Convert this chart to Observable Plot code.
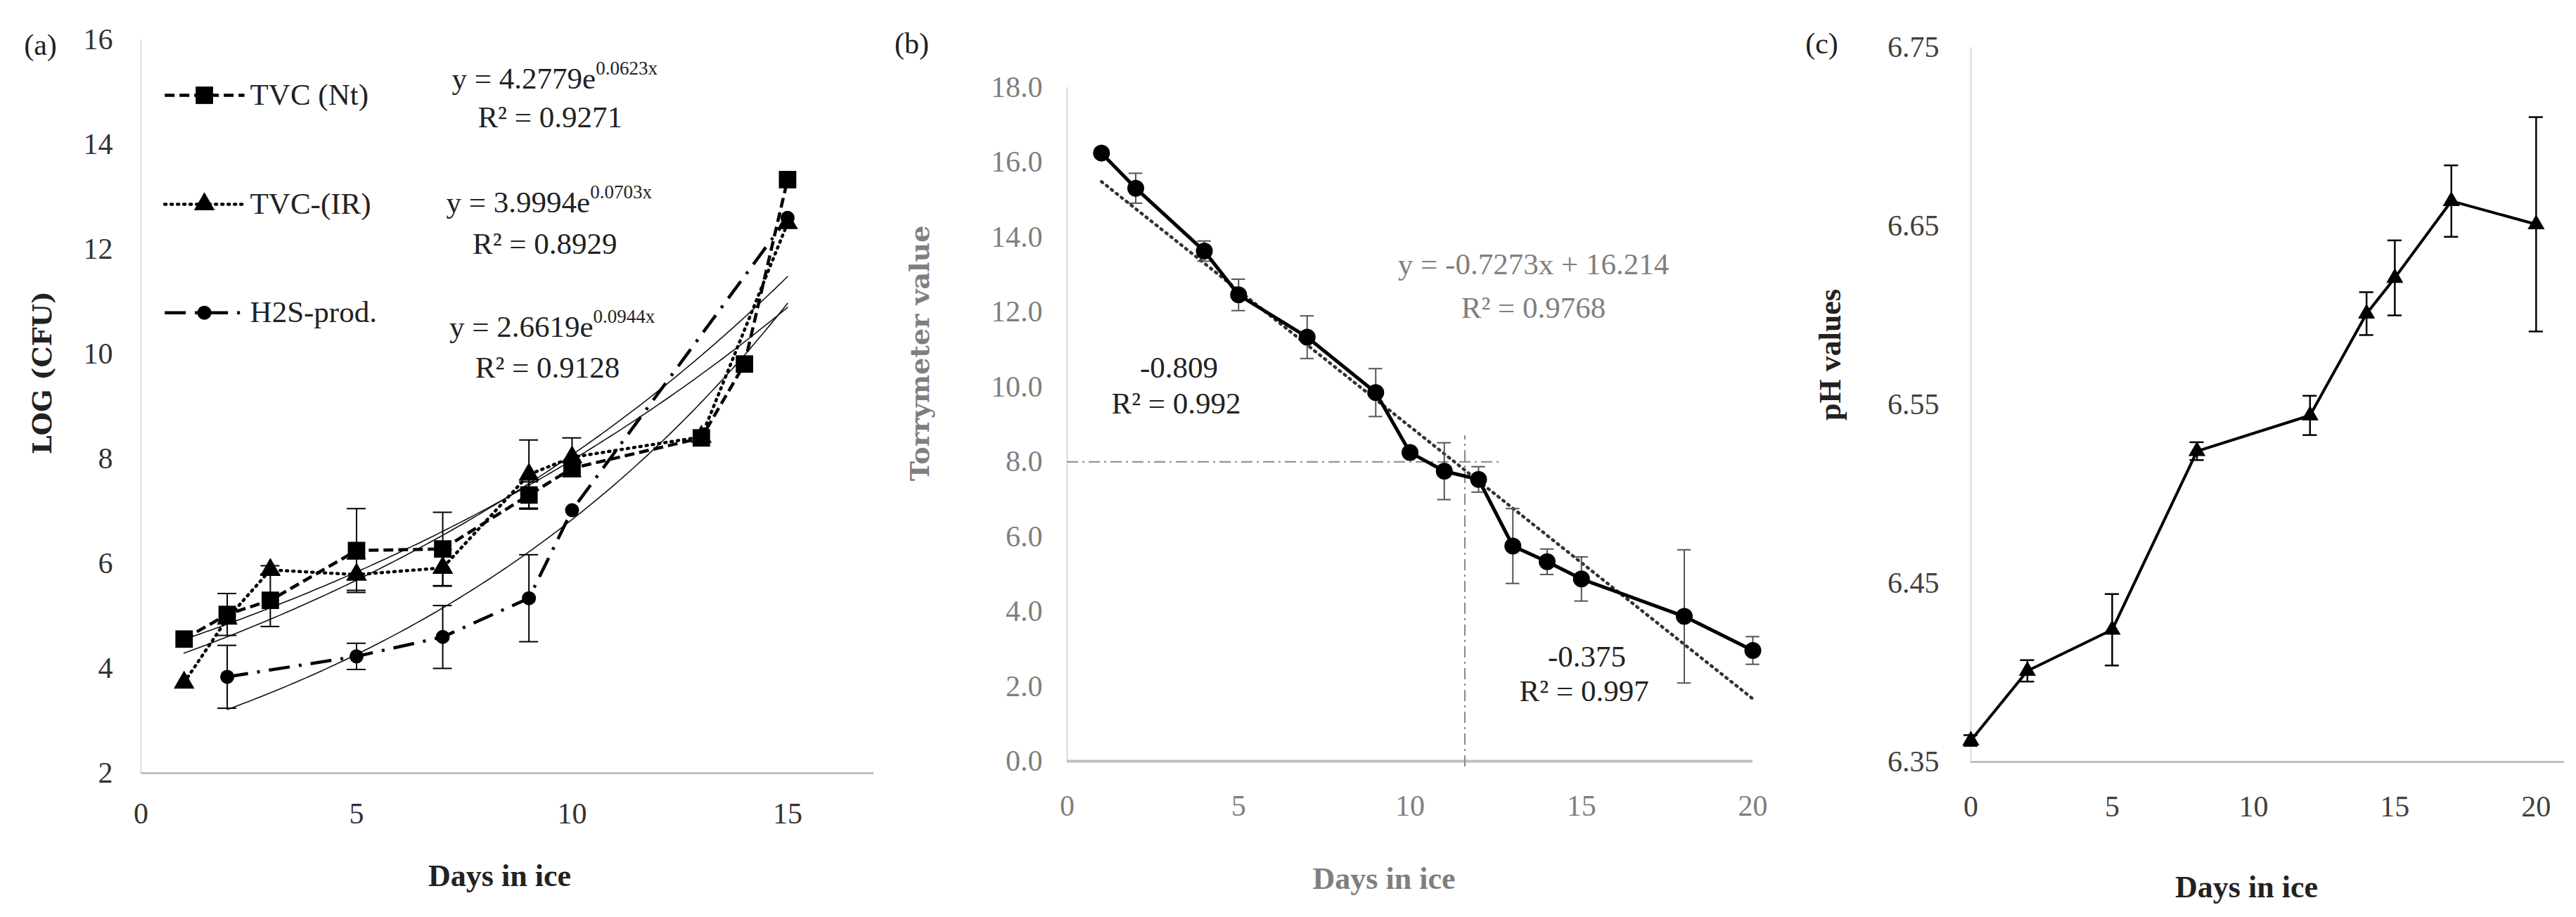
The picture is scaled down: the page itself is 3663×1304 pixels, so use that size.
<!DOCTYPE html>
<html>
<head>
<meta charset="utf-8">
<script src="https://cdn.jsdelivr.net/npm/d3@7"></script>
<script src="https://cdn.jsdelivr.net/npm/@observablehq/plot@0.6"></script>
<style>
  body { margin: 0; background: #fff; }
  #chart { display: flex; width: 3663px; height: 1304px; }
  #chart svg { display: block; }
</style>
</head>
<body>
<div id="chart"></div>
<script>
// (a) counts, LOG (CFU)
const daysNt = [1, 2, 3, 5, 7, 9, 10, 13, 14, 15];
const logNt = [4.56, 5.03, 5.30, 6.25, 6.28, 7.31, 7.82, 8.40, 9.81, 13.33];
const errNt = [0, 0.40, 0.50, 0.80, 0.70, 0.25, 0, 0, 0, 0];

const daysIR = [1, 2, 3, 5, 7, 9, 10, 13, 15];
const logIR = [3.73, 4.95, 5.88, 5.79, 5.92, 7.70, 8.03, 8.42, 12.50];
const errIR = [0, 0, 0.08, 0.30, 0.35, 0.66, 0.37, 0, 0];

const daysH2S = [2, 5, 7, 9, 10, 15];
const logH2S = [3.84, 4.23, 4.60, 5.34, 7.02, 12.60];
const errH2S = [0.60, 0.25, 0.60, 0.83, 0, 0];

const seriesA = ["TVC (Nt)", "TVC-(IR)", "H2S-prod."];
const fitA = [4.2779, 3.9994, 2.6619]; // y = a * e^(b x)
const fitB = [0.0623, 0.0703, 0.0944];
const fitR2 = ["0.9271", "0.8929", "0.9128"];
const fitStart = [1, 1, 2];
const fitEnd = 15;

// (b) Torrymeter
const daysT = [1, 2, 4, 5, 7, 9, 10, 11, 12, 13, 14, 15, 18, 20];
const torry = [16.25, 15.31, 13.63, 12.46, 11.33, 9.85, 8.25, 7.75, 7.53, 5.75, 5.33, 4.87, 3.87, 2.96];
const torryErr = [0, 0.40, 0.27, 0.42, 0.57, 0.64, 0, 0.76, 0.34, 1.00, 0.34, 0.59, 1.78, 0.37];
const torrySlope = -0.7273, torryIntercept = 16.214, torryR2 = "0.9768";
const slopeEarly = "-0.809", r2Early = "0.992";
const slopeLate = "-0.375", r2Late = "0.997";
const refValue = 8, refDay = 11.6;

// (c) pH
const daysPH = [0, 2, 5, 8, 12, 14, 15, 17, 20];
const ph = [6.362, 6.401, 6.424, 6.524, 6.544, 6.601, 6.621, 6.664, 6.651];
const phErr = [0.003, 0.006, 0.020, 0.005, 0.011, 0.012, 0.021, 0.020, 0.060];

const serif = "Liberation Serif";
const wide = "DejaVu Serif";
const rows = (xs, ys, es) => xs.map((x, i) => ({x, y: ys[i], e: es[i]}));

function errorBars(data, half, stroke, strokeWidth) {
  const d = data.filter(r => r.e > 0);
  return [
    Plot.ruleX(d, {x: "x", y1: r => r.y - r.e, y2: r => r.y + r.e, stroke, strokeWidth}),
    Plot.ruleY(d, {y: r => r.y + r.e, x1: r => r.x - half, x2: r => r.x + half, stroke, strokeWidth}),
    Plot.ruleY(d, {y: r => r.y - r.e, x1: r => r.x - half, x2: r => r.x + half, stroke, strokeWidth})
  ];
}

// titles placed relative to the frame, always centred on their anchor point
const label = (text, frameAnchor, dx, dy, opts = {}) =>
  Plot.text([text], {frameAnchor, dx, dy, textAnchor: "middle", lineAnchor: "middle", fontSize: 42, fill: "#222", ...opts});

const baseStyle = {fontFamily: serif, background: "white", overflow: "visible"};

// ---------- panel a ----------
const dataA = [rows(daysNt, logNt, errNt), rows(daysIR, logIR, errIR), rows(daysH2S, logH2S, errH2S)];
const looks = [
  {dash: "14,7", cap: "butt", symbol: "square", r: 14},
  {dash: "2,7", cap: "round", symbol: "triangle", r: 11},
  {dash: "30,13,4,13", cap: "butt", symbol: "circle", r: 10}
];
const fits = seriesA.map((s, i) =>
  d3.range(fitStart[i], fitEnd + 0.001, 0.1).map(x => ({x, y: fitA[i] * Math.exp(fitB[i] * x)})));
const legendY = [14.94, 12.86, 10.79];
const eqPos = [
  {x: 10.55, y: 15.25, ry: 14.51, rx: 9.49},
  {x: 10.42, y: 12.89, ry: 12.10, rx: 9.37},
  {x: 10.49, y: 10.51, ry: 9.73, rx: 9.43}
];

const marksA = [
  Plot.ruleX([0], {stroke: "#d9d9d9", strokeWidth: 2}),
  Plot.ruleY([2], {stroke: "#bfbfbf", strokeWidth: 3}),
  Plot.axisX({ticks: [0, 5, 10, 15], tickSize: 0, tickPadding: 42, fontSize: 42, color: "#333", label: null}),
  Plot.axisY({ticks: d3.range(2, 17, 2), tickSize: 0, tickPadding: 40, fontSize: 42, color: "#333", label: null}),
  ...fits.map(f => Plot.line(f, {x: "x", y: "y", stroke: "#111", strokeWidth: 1.6}))
];
dataA.forEach((d, i) => {
  const lk = looks[i];
  marksA.push(
    Plot.line(d, {x: "x", y: "y", stroke: "black", strokeWidth: 4.5, strokeDasharray: lk.dash, strokeLinecap: lk.cap}),
    ...errorBars(d, 0.22, "black", 2),
    Plot.dot(d, {x: "x", y: "y", symbol: lk.symbol, r: lk.r, fill: "black", stroke: "none"}),
    Plot.link([seriesA[i]], {x1: 0.55, x2: 2.4, y1: legendY[i], y2: legendY[i], stroke: "black", strokeWidth: 4.5, strokeDasharray: lk.dash, strokeLinecap: lk.cap}),
    Plot.dot([seriesA[i]], {x: 1.47, y: legendY[i], symbol: lk.symbol, r: lk.r, fill: "black"}),
    Plot.text([seriesA[i]], {x: 2.53, y: legendY[i], text: d => d, textAnchor: "start", fontSize: 43, fill: "#222"}),
    Plot.text([fitA[i]], {x: eqPos[i].x, y: eqPos[i].y, text: a => `y = ${a.toFixed(4)}e`, textAnchor: "end", fontSize: 43, fill: "#222"}),
    Plot.text([fitB[i]], {x: eqPos[i].x, y: eqPos[i].y + 0.2, text: b => `${b.toFixed(4)}x`, textAnchor: "start", fontSize: 27, fill: "#222"}),
    Plot.text([fitR2[i]], {x: eqPos[i].rx, y: eqPos[i].ry, text: r => `R² = ${r}`, fontSize: 43, fill: "#222"})
  );
});
marksA.push(
  label("(a)", "top-left", -143, 8),
  label("LOG (CFU)", "left", -140, -48, {rotate: -90, fontFamily: wide, fontWeight: "bold", fontSize: 38}),
  label("Days in ice", "bottom", -11, 146, {fontWeight: "bold", fontSize: 44})
);

const chartA = Plot.plot({
  width: 1250, height: 1304,
  marginLeft: 200, marginRight: 8, marginTop: 56, marginBottom: 205,
  x: {domain: [0, 17]},
  y: {domain: [2, 16]},
  style: baseStyle,
  marks: marksA
});

// ---------- panel b ----------
const torryRows = rows(daysT, torry, torryErr);
const torryFit = [daysT[0], daysT[daysT.length - 1]].map(x => ({x, y: torrySlope * x + torryIntercept}));
const grey = "#7f7f7f";

const chartB = Plot.plot({
  width: 1310, height: 1304,
  marginLeft: 267, marginRight: 68, marginTop: 124, marginBottom: 222,
  x: {domain: [0, 20]},
  y: {domain: [0, 18]},
  style: baseStyle,
  marks: [
    Plot.ruleX([0], {stroke: "#d9d9d9", strokeWidth: 2}),
    Plot.ruleY([0], {stroke: "#bfbfbf", strokeWidth: 4}),
    Plot.axisX({ticks: d3.range(0, 21, 5), tickSize: 0, tickPadding: 48, fontSize: 42, color: grey, label: null}),
    Plot.axisY({ticks: d3.range(0, 19, 2), tickFormat: ".1f", tickSize: 0, tickPadding: 35, fontSize: 42, color: grey, label: null}),
    Plot.ruleY([refValue], {x1: 0, x2: 12.65, stroke: "#888", strokeWidth: 2, strokeDasharray: "16,6,3,6"}),
    Plot.ruleX([refDay], {y1: -0.15, y2: 8.7, stroke: "#888", strokeWidth: 2, strokeDasharray: "16,6,3,6"}),
    Plot.line(torryFit, {x: "x", y: "y", stroke: "#333", strokeWidth: 4.5, strokeDasharray: "2,7", strokeLinecap: "round"}),
    ...errorBars(torryRows, 0.2, "#555", 2),
    Plot.line(torryRows, {x: "x", y: "y", stroke: "black", strokeWidth: 5}),
    Plot.dot(torryRows, {x: "x", y: "y", r: 12, fill: "black"}),
    Plot.text([torrySlope], {x: 13.6, y: 13.27, text: m => `y = ${m}x + ${torryIntercept}`, fontSize: 43, fill: grey}),
    Plot.text([torryR2], {x: 13.6, y: 12.1, text: r => `R² = ${r}`, fontSize: 43, fill: grey}),
    Plot.text([slopeEarly], {x: 3.26, y: 10.5, fontSize: 43, fill: "#222"}),
    Plot.text([r2Early], {x: 3.18, y: 9.55, text: r => `R² = ${r}`, fontSize: 43, fill: "#222"}),
    Plot.text([slopeLate], {x: 15.16, y: 2.78, fontSize: 43, fill: "#222"}),
    Plot.text([r2Late], {x: 15.08, y: 1.86, text: r => `R² = ${r}`, fontSize: 43, fill: "#222"}),
    label("(b)", "top-left", -221, -62),
    label("Torrymeter value", "left", -209, -101, {rotate: -90, fontFamily: wide, fontWeight: "bold", fontSize: 38, fill: grey}),
    label("Days in ice", "bottom", -37, 167, {fontWeight: "bold", fontSize: 44, fill: grey})
  ]
});

// ---------- panel c ----------
const phRows = rows(daysPH, ph, phErr);

const chartC = Plot.plot({
  width: 1103, height: 1304,
  marginLeft: 242, marginRight: 17, marginTop: 67, marginBottom: 221,
  x: {domain: [0, 21]},
  y: {domain: [6.35, 6.75]},
  style: baseStyle,
  marks: [
    Plot.ruleX([0], {stroke: "#d9d9d9", strokeWidth: 2}),
    Plot.ruleY([6.35], {stroke: "#bfbfbf", strokeWidth: 3}),
    Plot.axisX({ticks: d3.range(0, 21, 5), tickSize: 0, tickPadding: 48, fontSize: 42, color: "#404040", label: null}),
    Plot.axisY({ticks: [6.35, 6.45, 6.55, 6.65, 6.75], tickFormat: ".2f", tickSize: 0, tickPadding: 45, fontSize: 42, color: "#404040", label: null}),
    ...errorBars(phRows, 0.25, "black", 2.5),
    Plot.line(phRows, {x: "x", y: "y", stroke: "black", strokeWidth: 4}),
    Plot.dot(phRows, {x: "x", y: "y", symbol: "triangle", r: 9, fill: "black"}),
    label("(c)", "top-left", -212, -5),
    label("pH values", "left", -200, -71, {rotate: -90, fontWeight: "bold", fontSize: 44}),
    label("Days in ice", "bottom", -30, 178, {fontWeight: "bold", fontSize: 44})
  ]
});

const chart = d3.select("#chart");
chart.append(() => chartA);
chart.append(() => chartB);
chart.append(() => chartC);
</script>
</body>
</html>
